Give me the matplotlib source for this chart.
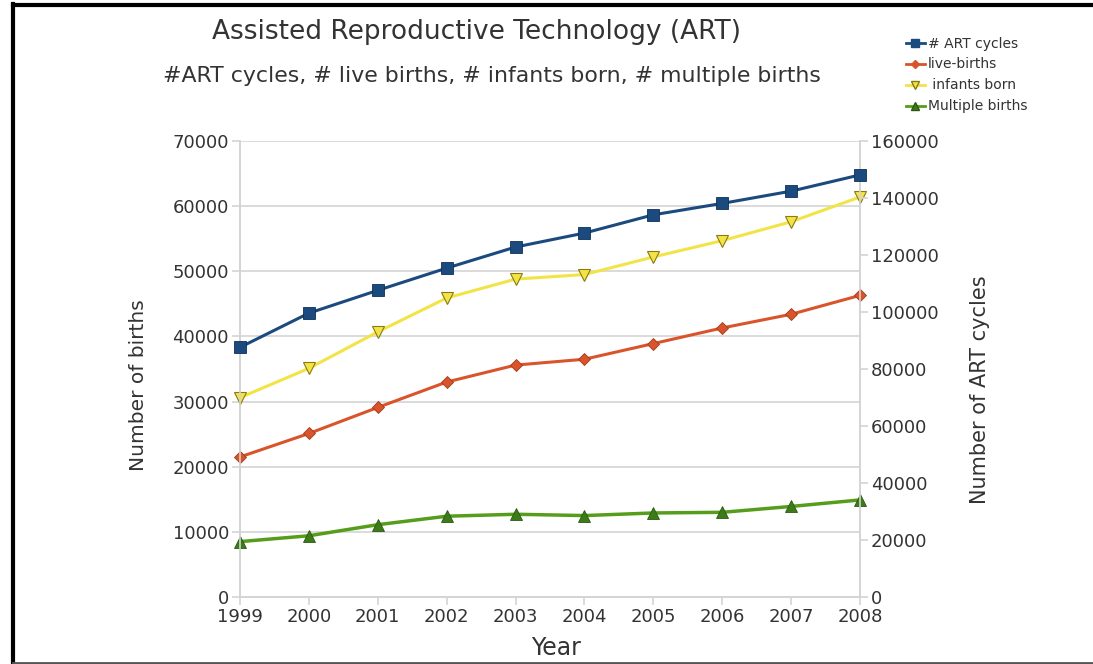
import matplotlib
matplotlib.use("Agg")
import matplotlib.pyplot as plt
from matplotlib.lines import Line2D

plt.rcParams['font.family'] = ['DejaVu Sans']

years = [1999, 2000, 2001, 2002, 2003, 2004, 2005, 2006, 2007, 2008]
art_cycles = [87600, 99600, 107600, 115400, 122800, 127700, 134100, 138100, 142400, 148100]
live_births = [21500, 25100, 29100, 33000, 35600, 36500, 38900, 41300, 43400, 46300]
infants_born = [30600, 35100, 40700, 45900, 48800, 49500, 52200, 54700, 57600, 61400]
multiple_births = [8500, 9400, 11100, 12400, 12700, 12500, 12900, 13000, 13900, 14900]

left_ticks = [0, 10000, 20000, 30000, 40000, 50000, 60000, 70000]
right_ticks = [0, 20000, 40000, 60000, 80000, 100000, 120000, 140000, 160000]

c_art = '#1b4a7e'
c_live = '#d9542b'
c_inf = '#f2e447'
c_mult = '#579d1c'
grid_c = '#d4d4d4'
text_c = '#333333'

fig = plt.figure(figsize=(10.93, 6.64), dpi=100)
ax = fig.add_axes([240 / 1093, 67 / 664, 620 / 1093, 456 / 664])
ax2 = ax.twinx()

ax.plot(years, live_births, color=c_live, lw=2.2, marker='D', ms=6,
        mfc=c_live, mec='#a03a1a', mew=0.6, zorder=3, clip_on=False)
ax.plot(years, infants_born, color=c_inf, lw=2.2, marker='v', ms=9,
        mfc=c_inf, mec='#8a7a10', mew=0.8, zorder=3, clip_on=False)
ax.plot(years, multiple_births, color=c_mult, lw=2.5, marker='^', ms=9,
        mfc='#3d7a1a', mec='#2a5a10', mew=0.6, zorder=3, clip_on=False)
ax2.plot(years, art_cycles, color=c_art, lw=2.2, marker='s', ms=8.5,
         mfc=c_art, mec='#0f2f55', mew=0.6, zorder=3, clip_on=False)

ax.set_xlim(1999, 2008)
ax.set_ylim(0, 70000)
ax2.set_ylim(0, 160000)
ax.set_xticks(years)
ax.set_yticks(left_ticks)
ax2.set_yticks(right_ticks)

ax.yaxis.grid(True, color=grid_c, lw=1.2)
ax.set_axisbelow(True)

for a in (ax, ax2):
    a.spines['top'].set_visible(False)
    for side in ('left', 'right', 'bottom'):
        a.spines[side].set_color(grid_c)
        a.spines[side].set_linewidth(1.2)
    a.tick_params(axis='both', colors=grid_c, labelcolor=text_c, labelsize=13,
                  length=6, width=1.2, direction='out', pad=2)

ax.set_xlabel('Year', fontsize=17, color=text_c, va='center')
ax.set_ylabel('Number of births', fontsize=14.5, color=text_c, va='center')
ax2.set_ylabel('Number of ART cycles', fontsize=15, color=text_c, va='center')
ax.xaxis.set_label_coords((556 - 240) / 620, -(648 - 597) / 456)
ax.yaxis.set_label_coords(-(240 - 138) / 620, (597 - 385) / 456)
ax2.yaxis.set_label_coords(1 + (980 - 860) / 620, (597 - 390) / 456)

fig.text(476 / 1093, 1 - 32 / 664, 'Assisted Reproductive Technology (ART)',
         fontsize=19, color=text_c, ha='center', va='center')
fig.text(492 / 1093, 1 - 76 / 664,
         '#ART cycles, # live births, # infants born, # multiple births',
         fontsize=15.8, color=text_c, ha='center', va='center')

handles = [
    Line2D([], [], color=c_art, lw=2, marker='s', ms=6, mfc=c_art, mec=c_art),
    Line2D([], [], color=c_live, lw=2, marker='D', ms=4, mfc=c_live, mec=c_live),
    Line2D([], [], color=c_inf, lw=2, marker='v', ms=6, mfc=c_inf, mec='#8a7a10'),
    Line2D([], [], color=c_mult, lw=2, marker='^', ms=6, mfc='#3d7a1a', mec='#2a5a10'),
]
labels = ['# ART cycles', 'live-births', ' infants born', 'Multiple births']
fig.legend(handles, labels, loc='upper left', bbox_to_anchor=(900 / 1093, 1 - 31 / 664),
           frameon=False, fontsize=10, handlelength=1.4, handletextpad=0.2,
           labelspacing=0.5, borderaxespad=0, labelcolor=text_c)

# frame around the whole figure
fig.add_artist(plt.Line2D([13 / 1093, 13 / 1093], [0, 1 - 4 / 664], color='black', lw=3,
                          transform=fig.transFigure))
fig.add_artist(plt.Line2D([13 / 1093, 1], [1 - 5 / 664, 1 - 5 / 664], color='black', lw=3,
                          transform=fig.transFigure))
fig.add_artist(plt.Line2D([13 / 1093, 1], [1.5 / 664, 1.5 / 664], color='#555555', lw=2,
                          transform=fig.transFigure))

fig.savefig('out.png', dpi=100, facecolor='white')
